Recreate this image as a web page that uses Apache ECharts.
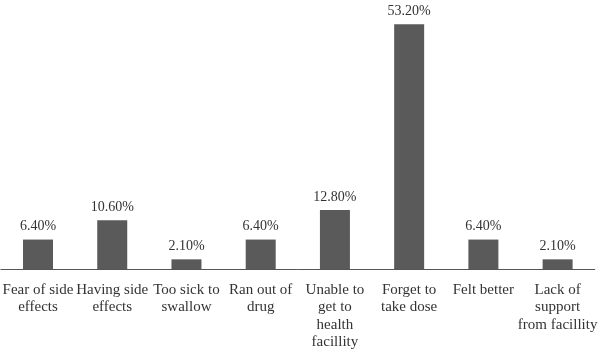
<!DOCTYPE html>
<html>
<head>
<meta charset="utf-8">
<script src="https://cdn.jsdelivr.net/npm/echarts@6/dist/echarts.min.js"></script>
<style>
  html, body { margin: 0; padding: 0; background: #fff; }
  #chart { width: 600px; height: 351px; }
</style>
</head>
<body>
<div id="chart"></div>
<script>
  // Categorías y porcentajes
  const categories = [
    'Fear of side\neffects',
    'Having side\neffects',
    'Too sick to\nswallow',
    'Ran out of\ndrug',
    'Unable to\nget to\nhealth\nfacillity',
    'Forget to\ntake dose',
    'Felt better',
    'Lack of\nsupport\nfrom facillity'
  ];
  const percentages = [6.4, 10.6, 2.1, 6.4, 12.8, 53.2, 6.4, 2.1];

  const chart = echarts.init(document.getElementById('chart'));

  const fontFamily = '"Liberation Serif", "DejaVu Serif", serif';

  chart.setOption({
    animation: false,
    grid: { left: 0, right: 0, top: 16, bottom: 73 },
    xAxis: {
      type: 'category',
      data: categories,
      axisLine: { lineStyle: { color: '#555', width: 1 } },
      axisTick: { show: false },
      axisLabel: {
        interval: 0,
        margin: 12,
        color: '#333',
        fontSize: 15,
        lineHeight: 17.5,
        fontFamily: fontFamily
      }
    },
    yAxis: {
      type: 'value',
      min: 0,
      max: 55,
      show: false,
      splitLine: { show: false }
    },
    series: [
      {
        type: 'bar',
        data: percentages,
        barWidth: 30,
        itemStyle: { color: '#5a5a5a' },
        label: {
          show: true,
          position: 'top',
          distance: 6,
          color: '#333',
          fontSize: 14,
          fontFamily: fontFamily,
          formatter: (p) => p.value.toFixed(2) + '%'
        }
      }
    ]
  });

  window.addEventListener('resize', () => chart.resize());
</script>
</body>
</html>
